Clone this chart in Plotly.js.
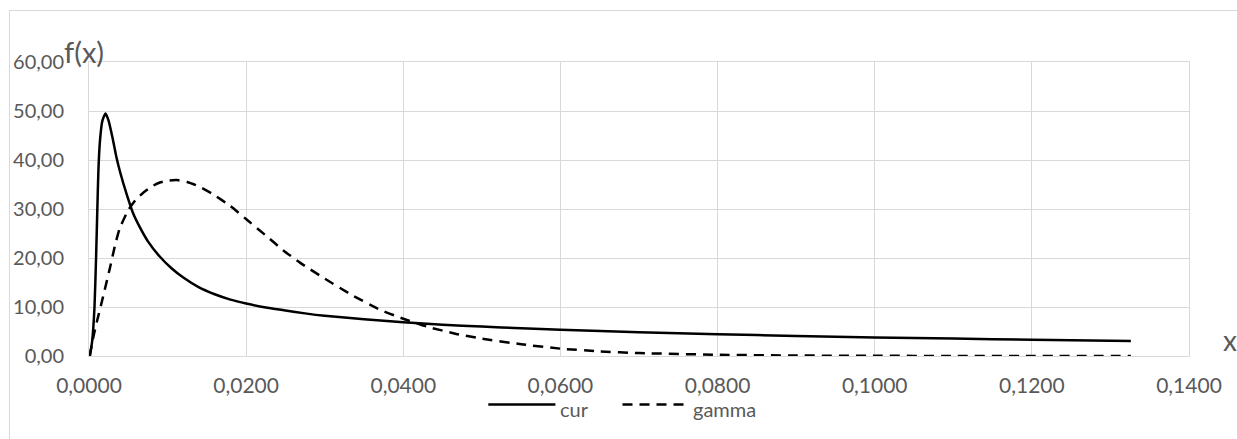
<!DOCTYPE html>
<html>
<head>
<meta charset="utf-8">
<script src="https://cdn.plot.ly/plotly-3.0.1.min.js"></script>
<style>
  html, body { margin: 0; padding: 0; background: #ffffff; overflow: hidden; }
  #frame { position: absolute; left: 9px; top: 10px; width: 1260px; height: 460px; border: 1px solid #d9d9d9; box-sizing: border-box; }
  #chart { position: absolute; left: 0; top: 0; width: 1237px; height: 439px; }
</style>
</head>
<body>
<div id="frame"></div>
<div id="chart"></div>
<script>
// ---- data ----
const curX = [0.0001, 0.0004, 0.0007, 0.0009, 0.00106, 0.0012, 0.0014, 0.0017, 0.0021, 0.0025, 0.003, 0.0035, 0.004, 0.0048, 0.0056, 0.0065, 0.0075, 0.009, 0.0105, 0.012, 0.014, 0.016, 0.018, 0.020, 0.0225, 0.025, 0.0275, 0.03, 0.035, 0.04, 0.045, 0.05, 0.055, 0.06, 0.07, 0.08, 0.09, 0.1, 0.11, 0.12, 0.1326];
const curY = [0, 3, 10, 20, 30, 38, 44, 48, 49.5, 48, 44.5, 40.5, 37.3, 33, 29.2, 26.2, 23.4, 20.3, 17.9, 16.0, 14.0, 12.6, 11.5, 10.7, 9.9, 9.3, 8.7, 8.2, 7.5, 6.9, 6.4, 6.0, 5.65, 5.35, 4.85, 4.45, 4.1, 3.8, 3.55, 3.3, 3.05];

const gammaX = [0.0001, 0.0005, 0.001, 0.0015, 0.002, 0.0027, 0.0033, 0.0039, 0.005, 0.006, 0.0069, 0.008, 0.009, 0.010, 0.0112, 0.0125, 0.014, 0.0158, 0.018, 0.0201, 0.0225, 0.0247, 0.0269, 0.03, 0.0335, 0.0371, 0.04, 0.043, 0.0465, 0.0498, 0.055, 0.06, 0.065, 0.07, 0.08, 0.09, 0.1, 0.11, 0.12, 0.1326];
const gammaY = [0, 3.5, 7, 10.2, 13.5, 18.2, 22.5, 26.0, 29.8, 32, 33.3, 34.6, 35.4, 35.8, 35.9, 35.5, 34.6, 33.0, 30.6, 27.8, 24.6, 21.6, 19.0, 15.8, 12.4, 9.4, 7.6, 6.0, 4.6, 3.6, 2.4, 1.5, 0.95, 0.6, 0.25, 0.1, 0.04, 0.01, 0, 0];

const seriesNames = ["cur", "gamma"];
const yTitle = "f(x)";
const xTitle = "x";

const grid = "#d9d9d9";
const txt = "#595959";
const fontFam = "Lato, 'Open Sans', sans-serif";

const traces = [
  { x: curX, y: curY, name: seriesNames[0], type: "scatter", mode: "lines",
    line: { color: "#000000", width: 2.5, shape: "spline", smoothing: 0.5 } },
  { x: gammaX, y: gammaY, name: seriesNames[1], type: "scatter", mode: "lines",
    line: { color: "#000000", width: 2.5, dash: "10px,7px", shape: "spline", smoothing: 0.5 } }
];

const layout = {
  width: 1237, height: 439,
  margin: { l: 89, r: 48, t: 62, b: 83 },
  paper_bgcolor: "rgba(0,0,0,0)",
  plot_bgcolor: "rgba(0,0,0,0)",
  separators: ", ",
  showlegend: false,
  font: { family: fontFam, color: txt, size: 20 },
  xaxis: {
    range: [0, 0.14], tick0: 0, dtick: 0.02, tickformat: ".4f",
    showgrid: true, gridcolor: grid, gridwidth: 1,
    showline: true, linecolor: grid, linewidth: 1, mirror: true,
    zeroline: false, ticks: "", ticklabelstandoff: 11,
    tickfont: { family: fontFam, color: txt, size: 21 }
  },
  yaxis: {
    range: [0, 60], tick0: 0, dtick: 10, tickformat: ".2f",
    showgrid: true, gridcolor: grid, gridwidth: 1,
    showline: true, linecolor: grid, linewidth: 1, mirror: true,
    zeroline: false, ticks: "", ticklabelstandoff: 20,
    tickfont: { family: fontFam, color: txt, size: 20 }
  },
  shapes: [
    { type: "line", xref: "paper", yref: "paper", x0: 0.363, x1: 0.424, y0: -0.165, y1: -0.165,
      line: { color: "#000000", width: 2.5 } },
    { type: "line", xref: "paper", yref: "paper", x0: 0.485, x1: 0.545, y0: -0.165, y1: -0.165,
      line: { color: "#000000", width: 2.5, dash: "10px,7px" } }
  ],
  annotations: [
    { text: seriesNames[0], xref: "paper", yref: "paper", x: 0.426, y: -0.18, xanchor: "left", yanchor: "middle",
      showarrow: false, font: { family: fontFam, color: txt, size: 20 } },
    { text: seriesNames[1], xref: "paper", yref: "paper", x: 0.547, y: -0.18, xanchor: "left", yanchor: "middle",
      showarrow: false, font: { family: fontFam, color: txt, size: 20 } },
    { text: yTitle, xref: "paper", yref: "paper", x: -0.025, y: 1.035, xanchor: "left", yanchor: "middle",
      showarrow: false, font: { family: fontFam, color: txt, size: 29 } },
    { text: xTitle, xref: "paper", yref: "paper", x: 1.037, y: -0.01, xanchor: "center", yanchor: "bottom",
      showarrow: false, font: { family: fontFam, color: txt, size: 28 } }
  ]
};

Plotly.newPlot("chart", traces, layout, { displayModeBar: false, staticPlot: true });
</script>
</body>
</html>
